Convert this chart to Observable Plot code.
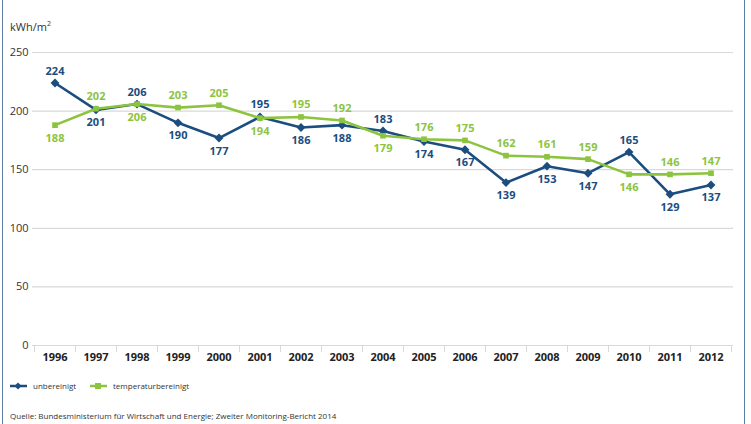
<!DOCTYPE html>
<html>
<head>
<meta charset="utf-8">
<script src="https://cdn.jsdelivr.net/npm/d3@7"></script>
<script src="https://cdn.jsdelivr.net/npm/@observablehq/plot@0.6"></script>
<style>
  html, body { margin: 0; padding: 0; background: #fff; }
  #wrap { position: relative; width: 751px; height: 424px; overflow: hidden; font-family: "Open Sans", sans-serif; }
  #frame { position: absolute; left: 2px; top: 0; width: 741px; height: 424px; border-left: 1.5px solid #5f7ea3; border-right: 1.5px solid #5f7ea3; }
  #unit { position: absolute; left: 10px; top: 19px; font-size: 11px; color: #333; }
  #chart { position: absolute; left: 0; top: 0; }
  #legend { position: absolute; left: 0; top: 380px; width: 300px; height: 12px; font-size: 8px; color: #333; }
  #legend .item { position: absolute; top: 0; display: flex; align-items: center; white-space: nowrap; }
  #legend svg { margin-right: 6px; }
  #source { position: absolute; left: 10px; top: 410px; font-size: 8px; color: #333; white-space: nowrap; }
</style>
</head>
<body>
<div id="wrap">
  <div id="frame"></div>
  <div id="chart"></div>
  <div id="unit">kWh/m<sup style="font-size:7px">2</sup></div>
  <div id="legend"></div>
  <div id="source">Quelle: Bundesministerium für Wirtschaft und Energie; Zweiter Monitoring-Bericht 2014</div>
</div>
<script>
const years = [1996,1997,1998,1999,2000,2001,2002,2003,2004,2005,2006,2007,2008,2009,2010,2011,2012];
const unbereinigt = [224,201,206,190,177,195,186,188,183,174,167,139,153,147,165,129,137];
const temperaturbereinigt = [188,202,206,203,205,194,195,192,179,176,175,162,161,159,146,146,147];
const seriesNames = ["unbereinigt", "temperaturbereinigt"];
const colors = ["#1b4d7e", "#8cc43f"];
const yTicks = [0,50,100,150,200,250];

const rowsU = years.map((y, i) => ({year: y, value: unbereinigt[i], above: unbereinigt[i] >= temperaturbereinigt[i]}));
const rowsT = years.map((y, i) => ({year: y, value: temperaturbereinigt[i], above: temperaturbereinigt[i] > unbereinigt[i]}));
const boundaries = [years[0] - 0.5, ...years.map(y => y + 0.5)];

const font = "'Open Sans', sans-serif";

const chart = Plot.plot({
  width: 745,
  height: 372,
  marginTop: 52,
  marginBottom: 27,
  marginLeft: 34,
  marginRight: 14,
  style: {fontFamily: font, fontSize: "11px", color: "#333", background: "transparent"},
  x: {type: "linear", domain: [years[0] - 0.5, years[years.length - 1] + 0.5]},
  y: {domain: [0, 250]},
  marks: [
    Plot.ruleY(yTicks, {stroke: "#d9d9d9", strokeWidth: 1.2, x1: years[0] - 0.55, x2: years[years.length - 1] + 0.55}),
    Plot.axisY({ticks: yTicks, tickSize: 0, tickPadding: 6, fontSize: 11, fill: "#333", label: null}),
    Plot.axisX({ticks: boundaries, tickSize: 7, tickFormat: () => "", stroke: "#d9d9d9", label: null}),
    Plot.axisX({ticks: years, tickSize: 0, tickPadding: 8, tickFormat: d => String(d), fontWeight: "bold", fontSize: 11, fill: "#222", label: null}),
    Plot.line(rowsU, {x: "year", y: "value", stroke: colors[0], strokeWidth: 2.6}),
    Plot.dot(rowsU, {x: "year", y: "value", symbol: "diamond2", r: 4, fill: colors[0]}),
    Plot.line(rowsT, {x: "year", y: "value", stroke: colors[1], strokeWidth: 2.6}),
    Plot.dot(rowsT, {x: "year", y: "value", symbol: "square2", r: 3.6, fill: colors[1]}),
    Plot.text(rowsU.filter(d => d.above), {x: "year", y: "value", text: "value", dy: -12, fill: colors[0], fontWeight: "bold", fontSize: 11}),
    Plot.text(rowsU.filter(d => !d.above), {x: "year", y: "value", text: "value", dy: 13, fill: colors[0], fontWeight: "bold", fontSize: 11}),
    Plot.text(rowsT.filter(d => d.above), {x: "year", y: "value", text: "value", dy: -12, fill: colors[1], fontWeight: "bold", fontSize: 11}),
    Plot.text(rowsT.filter(d => !d.above), {x: "year", y: "value", text: "value", dy: 13, fill: colors[1], fontWeight: "bold", fontSize: 11})
  ]
});
document.getElementById("chart").appendChild(chart);

const legend = document.getElementById("legend");
const symbols = ["diamond", "square"];
const legendLeft = [10, 90];
seriesNames.forEach((name, i) => {
  const item = document.createElement("div");
  item.className = "item";
  item.style.left = legendLeft[i] + "px";
  const marker = symbols[i] === "diamond"
    ? `<polygon points="8,0.5 11.5,4 8,7.5 4.5,4" fill="${colors[i]}"/>`
    : `<rect x="5" y="1" width="6" height="6" fill="${colors[i]}"/>`;
  item.innerHTML = `<svg width="17" height="8"><line x1="0" x2="17" y1="4" y2="4" stroke="${colors[i]}" stroke-width="2.5"/>${marker}</svg><span>${name}</span>`;
  legend.appendChild(item);
});
</script>
</body>
</html>
